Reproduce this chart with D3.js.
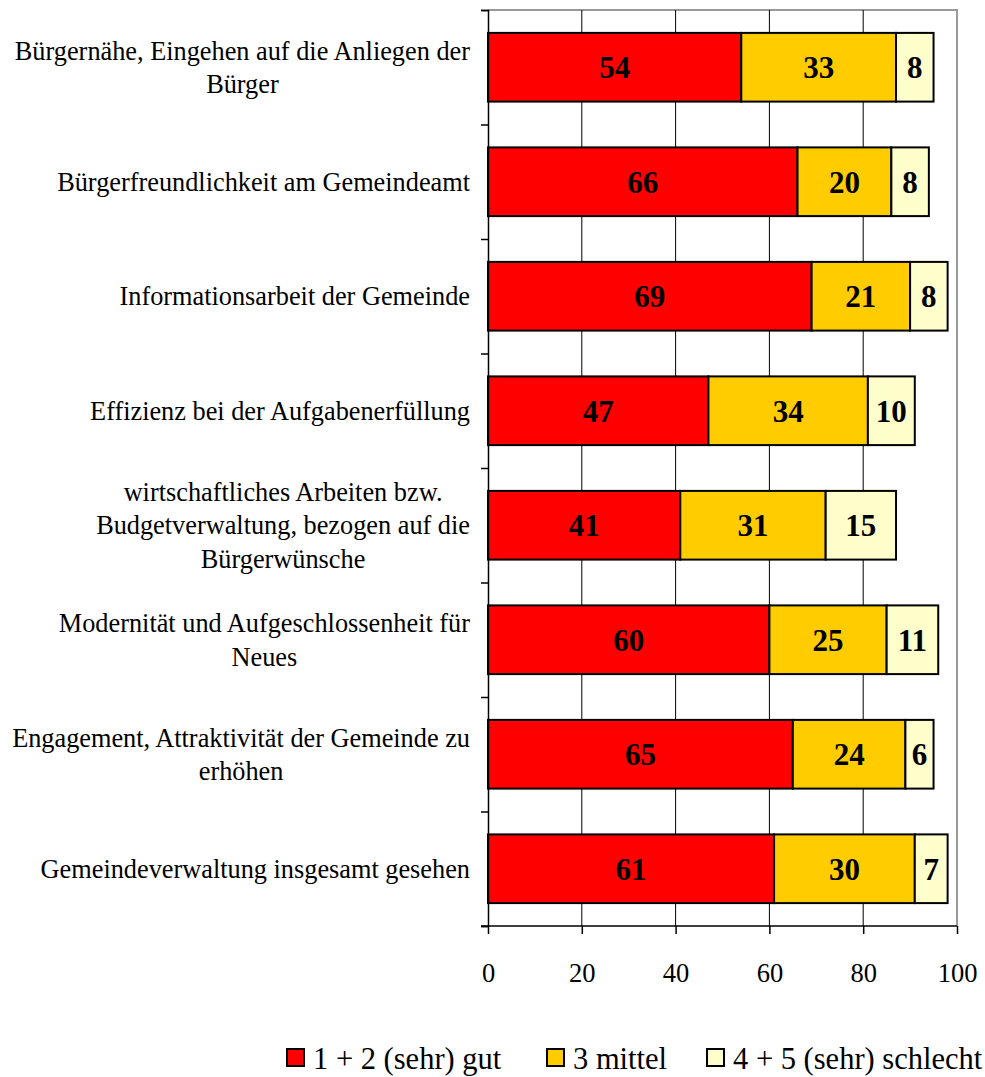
<!DOCTYPE html>
<html><head><meta charset="utf-8">
<script src="https://cdn.jsdelivr.net/npm/d3@7"></script>
<style>body{margin:0;background:#fff}</style>
</head><body>
<svg id="c" width="985" height="1077"></svg>
<script>
const categories = [
  "Bürgernähe, Eingehen auf die Anliegen der|Bürger",
  "Bürgerfreundlichkeit am Gemeindeamt",
  "Informationsarbeit der Gemeinde",
  "Effizienz bei der Aufgabenerfüllung",
  "wirtschaftliches Arbeiten bzw.|Budgetverwaltung, bezogen auf die|Bürgerwünsche",
  "Modernität und Aufgeschlossenheit für|Neues",
  "Engagement, Attraktivität der Gemeinde zu|erhöhen",
  "Gemeindeverwaltung insgesamt gesehen"
];
const gut = [54, 66, 69, 47, 41, 60, 65, 61];
const mittel = [33, 20, 21, 34, 31, 25, 24, 30];
const schlecht = [8, 8, 8, 10, 15, 11, 6, 7];
const seriesNames = ["1 + 2 (sehr) gut", "3 mittel", "4 + 5 (sehr) schlecht"];
const colors = ["#FF0000", "#FFCC00", "#FFFFCC"];
const xTicks = [0, 20, 40, 60, 80, 100];

const svg = d3.select("#c");
const font = "'Liberation Serif', 'Times New Roman', serif";
const L = 488, R = 957, T = 10, B = 926;
const x = d3.scaleLinear().domain([0, 100]).range([L, R]);
const y = d3.scaleBand().domain(d3.range(categories.length)).range([T, B]).paddingInner(0.4).paddingOuter(0.2);

// plot border (gray top/right)
svg.append("path").attr("d", `M${L},${T}H${R}V${B}`).attr("fill", "none").attr("stroke", "#999").attr("stroke-width", 2);

// gridlines
svg.append("g").selectAll("line").data(xTicks.filter(d => d > 0 && d < 100)).join("line")
  .attr("x1", d => x(d)).attr("x2", d => x(d)).attr("y1", T).attr("y2", B)
  .attr("stroke", "#000").attr("stroke-width", 1);

// stacked data
const rows = categories.map((c, i) => ({i, vals: [gut[i], mittel[i], schlecht[i]]}));
const segs = [];
rows.forEach(r => { let acc = 0; r.vals.forEach((v, k) => { segs.push({i: r.i, k, v, x0: acc, x1: acc + v}); acc += v; }); });

svg.append("g").selectAll("rect").data(segs).join("rect")
  .attr("x", d => x(d.x0)).attr("width", d => x(d.x1) - x(d.x0))
  .attr("y", d => y(d.i)).attr("height", y.bandwidth())
  .attr("fill", d => colors[d.k]).attr("stroke", "#000").attr("stroke-width", 2);

svg.append("g").selectAll("text").data(segs).join("text")
  .attr("x", d => (x(d.x0) + x(d.x1)) / 2).attr("y", d => y(d.i) + y.bandwidth() / 2)
  .attr("dy", "0.35em").attr("text-anchor", "middle")
  .attr("font-family", font).attr("font-weight", "bold").attr("font-size", 31)
  .text(d => d.v);

// y axis
const yAxis = d3.axisLeft(d3.scaleLinear().domain([0, categories.length]).range([T, B]))
  .ticks(categories.length).tickSize(7).tickFormat("");
const ga = svg.append("g").attr("transform", `translate(${L},0)`).call(yAxis);
ga.select(".domain").attr("stroke", "#000").attr("stroke-width", 1.5);
ga.selectAll(".tick line").attr("stroke", "#000").attr("stroke-width", 1.5);

// x axis
const xAxis = d3.axisBottom(x).tickValues(xTicks).tickSize(8).tickSizeOuter(0).tickPadding(29);
const gx = svg.append("g").attr("transform", `translate(0,${B})`).call(xAxis);
gx.select(".domain").attr("stroke", "#000").attr("stroke-width", 1.5).attr("d", `M${L-7},0H${R}`);
gx.selectAll(".tick line").attr("stroke", "#000").attr("stroke-width", 1.5);
gx.selectAll("text").attr("font-family", font).attr("font-size", 26.5).attr("fill", "#000");

// category labels
const lh = 33.5;
categories.forEach((c, i) => {
  const lines = c.split("|");
  const g = svg.append("g");
  const t = g.append("text").attr("font-family", font).attr("font-size", 26.3).attr("text-anchor", "middle");
  const cy = y(i) + y.bandwidth() / 2;
  lines.forEach((ln, j) => {
    t.append("tspan").attr("y", cy + (j - (lines.length - 1) / 2) * lh).attr("dy", "0.35em").text(ln);
  });
  let maxW = 0;
  t.selectAll("tspan").each(function() { maxW = Math.max(maxW, this.getComputedTextLength()); });
  const cx = 470 - maxW / 2;
  t.selectAll("tspan").attr("x", cx);
});

// legend
const legX = [287, 547, 707];
const lg = svg.append("g");
seriesNames.forEach((n, k) => {
  lg.append("rect").attr("x", legX[k]).attr("y", 1049).attr("width", 17).attr("height", 17)
    .attr("fill", colors[k]).attr("stroke", "#000").attr("stroke-width", 2);
  lg.append("text").attr("x", legX[k] + 26).attr("y", 1058).attr("dy", "0.35em")
    .attr("font-family", font).attr("font-size", 30.5).text(n);
});
</script>
</body></html>
